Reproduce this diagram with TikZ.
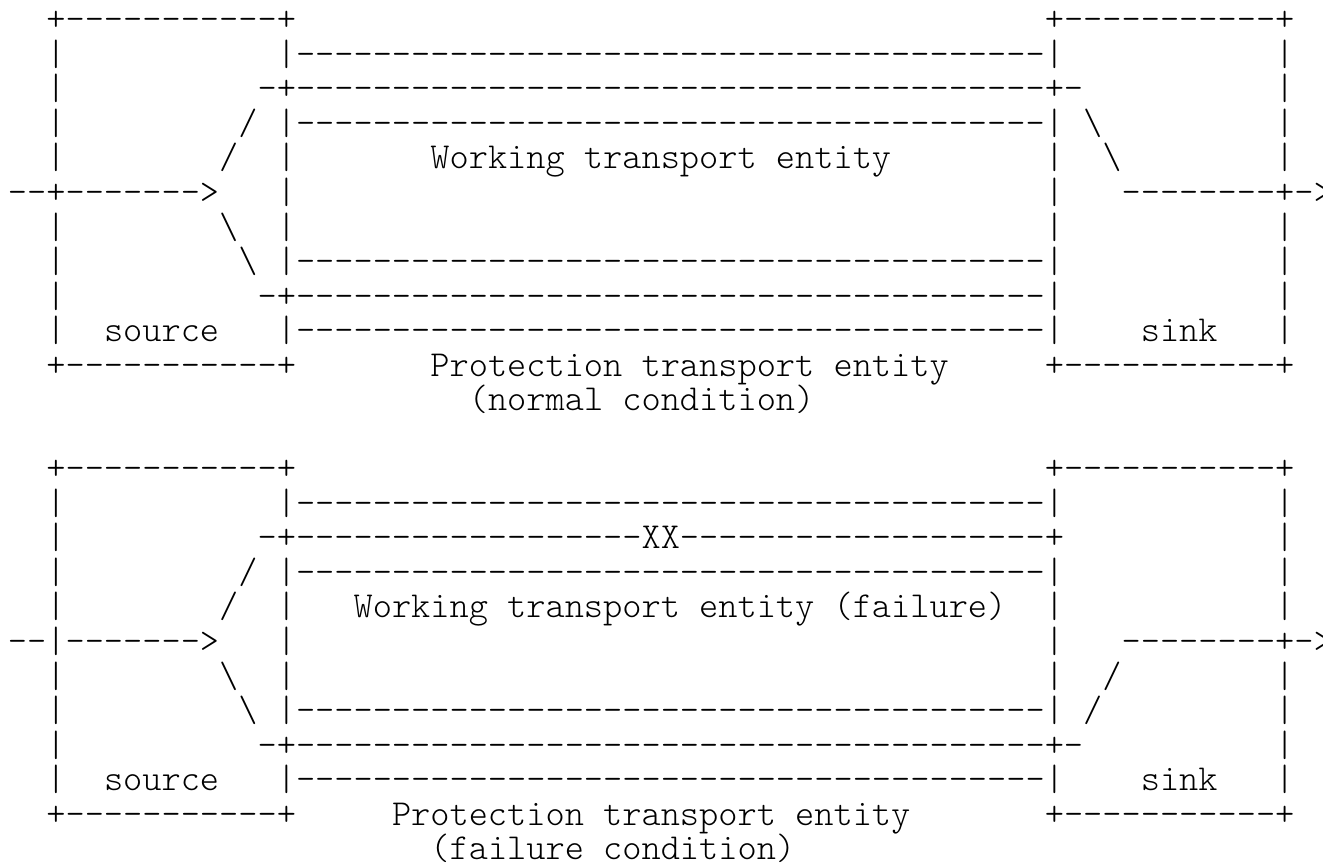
\documentclass[tikz,border=0pt]{standalone}
\usepackage{fontspec}
\setmonofont{Latin Modern Mono Light}

\tikzset{
  ascii/.style={font=\ttfamily\fontsize{36.57}{34.54}\selectfont, anchor=base west, inner sep=0pt, outer sep=0pt}
}
\def\colw{19.2}
\def\rowh{34.54}
\newcommand\wire{-----{}-----{}-----{}-----{}-----{}-----{}-----{}----}
\newcommand\boxedge{+-----{}------+}
% text at row #1, column #2
\newcommand\asciiat[3]{%
  \pgfmathtruncatemacro\rw{#1}%
  \node[ascii] (r\rw c#2) at ({\colw*#2-11.2},{-\rowh*\rw-30.8}) {#3};}

\begin{document}
\begin{tikzpicture}[x=1pt,y=1pt]
  \useasboundingbox (0,0) rectangle (1323,-864);
  % what both figures share
  \foreach \o in {0,13} {
    \asciiat{\o}{3}{\boxedge}
    \asciiat{\o}{55}{\boxedge}
    \foreach \rr in {1,2,3,4,6,7,8,9} {
      \asciiat{\o+\rr}{3}{|}
      \asciiat{\o+\rr}{67}{|}
    }
    \foreach \rr in {1,3,7,9} {\asciiat{\o+\rr}{15}{|\wire|}}
    \foreach \rr in {4,5,6} {
      \asciiat{\o+\rr}{15}{|}
      \asciiat{\o+\rr}{55}{|}
    }
    \asciiat{\o+3}{13}{/}
    \asciiat{\o+4}{12}{/}
    \asciiat{\o+6}{12}{\textbackslash}
    \asciiat{\o+7}{13}{\textbackslash}
    \asciiat{\o+5}{59}{--------+->}
    \asciiat{\o+9}{6}{source}
    \asciiat{\o+9}{60}{sink}
    \asciiat{\o+10}{3}{\boxedge}
    \asciiat{\o+10}{55}{\boxedge}
  }
  % normal condition
  \asciiat{2}{14}{-+\wire+-}
  \asciiat{3}{57}{\textbackslash}
  \asciiat{4}{23}{Working transport entity}
  \asciiat{4}{58}{\textbackslash}
  \asciiat{5}{1}{--+------->}
  \asciiat{8}{14}{-+\wire|}
  \asciiat{10}{23}{Protection transport entity}
  \asciiat{11}{25}{(normal condition)}
  % failure condition
  \asciiat{15}{14}{-+-----{}-----{}-----{}---XX-----{}-----{}-----{}----+}
  \asciiat{17}{19}{Working transport entity (failure)}
  \asciiat{18}{1}{--|------->}
  \asciiat{19}{58}{/}
  \asciiat{20}{57}{/}
  \asciiat{21}{14}{-+\wire+-}
  \asciiat{23}{21}{Protection transport entity}
  \asciiat{24}{23}{(failure condition)}
\end{tikzpicture}
\end{document}
